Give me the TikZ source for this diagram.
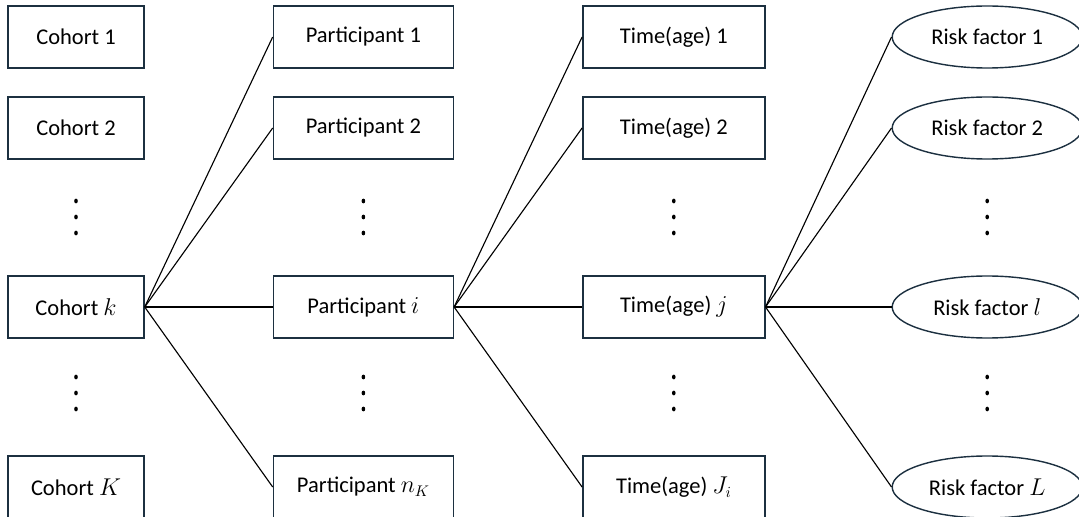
\documentclass[tikz,border=0pt]{standalone}
\usepackage{fontspec}
\setmainfont{Carlito}
\usetikzlibrary{positioning,shapes.geometric}
\definecolor{cBorder}{HTML}{1C3040}

\begin{document}
\begin{tikzpicture}[
    font=\fontsize{16}{19}\selectfont,
    node distance=3.2cm,
    box/.style={draw=cBorder, line width=1pt, align=center, minimum height=1.55cm, inner sep=2pt},
    oval/.style={ellipse, draw=cBorder, line width=1pt, minimum width=4.75cm, minimum height=1.55cm, inner sep=0pt},
    link/.style={draw=black, line width=0.8pt},
    vdotsmark/.pic={\fill (0,0.4) ellipse (1.3pt and 1.7pt) (0,0) ellipse (1.3pt and 1.7pt) (0,-0.4) ellipse (1.3pt and 1.7pt);}
]

\useasboundingbox (0,0) rectangle (26.975,12.925);

% cohorts
\node[box, minimum width=3.4cm] (coh1) at (1.9,12.0) {Cohort 1};
\node[box, minimum width=3.4cm] (coh2) at (1.9,9.725) {Cohort 2};
\coordinate (cohdotsA) at (1.9,7.5);
\node[box, minimum width=3.4cm] (cohk) at (1.9,5.25) {Cohort $k$};
\coordinate (cohdotsB) at (1.9,3.1);
\node[box, minimum width=3.4cm] (cohK) at (1.9,0.75) {Cohort $K$};

% participants
\node[box, minimum width=4.5cm, right=of coh1] (part1) {Participant 1};
\node[box, minimum width=4.5cm, right=of coh2] (part2) {Participant 2};
\node[box, minimum width=4.5cm, right=of cohk] (parti) {Participant $i$};
\node[box, minimum width=4.5cm, right=of cohK] (partn) {Participant $n_K$};

% time points
\node[box, minimum width=4.55cm, right=of part1] (time1) {Time(age) 1};
\node[box, minimum width=4.55cm, right=of part2] (time2) {Time(age) 2};
\node[box, minimum width=4.55cm, right=of parti] (timej) {Time(age) $j$};
\node[box, minimum width=4.55cm, right=of partn] (timeJ) {Time(age) $J_i$};

% risk factors
\node[oval, right=3.15cm of time1] (risk1) {Risk factor 1};
\node[oval, right=3.15cm of time2] (risk2) {Risk factor 2};
\node[oval, right=3.15cm of timej] (riskl) {Risk factor $l$};
\node[oval, right=3.15cm of timeJ] (riskL) {Risk factor $L$};

% vertical ellipses between rows
\pic at (cohdotsA) {vdotsmark};
\pic at (cohdotsB) {vdotsmark};
\pic at (part2 |- cohdotsA) {vdotsmark};
\pic at (parti |- cohdotsB) {vdotsmark};
\pic at (time2 |- cohdotsA) {vdotsmark};
\pic at (timej |- cohdotsB) {vdotsmark};
\pic at (risk2 |- cohdotsA) {vdotsmark};
\pic at (riskl |- cohdotsB) {vdotsmark};

\draw[link] (cohk.east) -- (part1.west);
\draw[link] (cohk.east) -- (part2.west);
\draw[link] (cohk.east) -- (parti.west);
\draw[link] (cohk.east) -- (partn.west);

\draw[link] (parti.east) -- (time1.west);
\draw[link] (parti.east) -- (time2.west);
\draw[link] (parti.east) -- (timej.west);
\draw[link] (parti.east) -- (timeJ.west);

\draw[link] (timej.east) -- (risk1.west);
\draw[link] (timej.east) -- (risk2.west);
\draw[link] (timej.east) -- (riskl.west);
\draw[link] (timej.east) -- (riskL.west);

% only the k-th / i-th / j-th branch is expanded

\end{tikzpicture}
\end{document}
